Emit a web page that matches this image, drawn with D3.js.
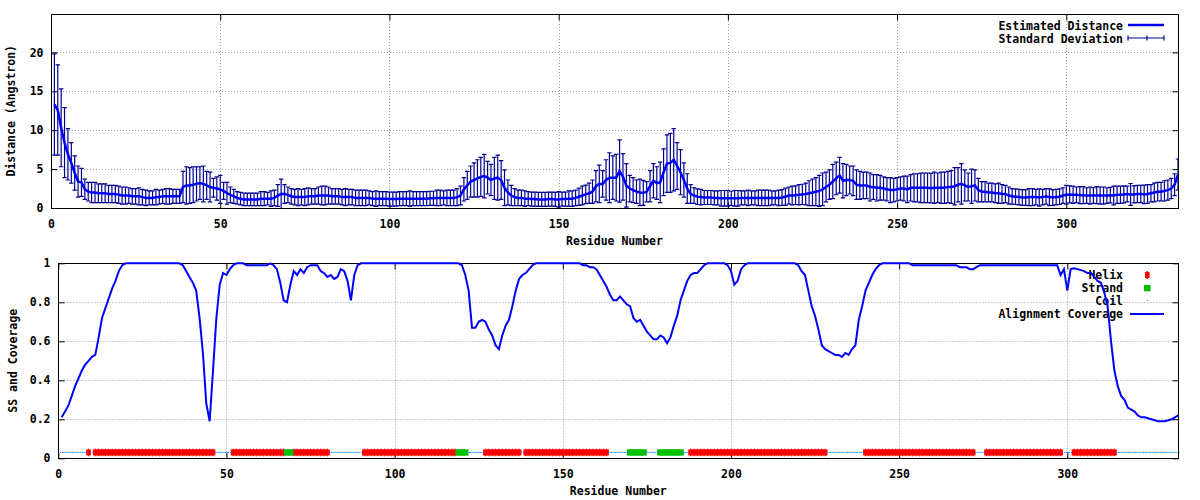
<!DOCTYPE html>
<html><head><meta charset="utf-8">
<script src="https://cdn.jsdelivr.net/npm/d3@7"></script>
<style>
body{margin:0;background:#fff;}
text{font-family:"DejaVu Sans Mono",monospace;font-weight:bold;font-size:11.5px;fill:#000;}
</style></head><body>
<svg id="c" width="1200" height="500"></svg>
<script>
// ---------------- DATA ----------------
const residueCount = 333;
const xTicks = [0, 50, 100, 150, 200, 250, 300];
const distTicks = [0, 5, 10, 15, 20];
const covTicks = [0, 0.2, 0.4, 0.6, 0.8, 1];
const covTickLabels = ["0", "0.2", "0.4", "0.6", "0.8", "1"];

const distance = [
13.3,12.6,10.3,8.4,6.9,5.8,4.5,3.4,3.3,2.4,
2.1,2.0,2.0,1.9,1.9,1.9,1.8,1.8,1.8,1.7,
1.6,1.6,1.6,1.5,1.5,1.5,1.4,1.3,1.3,1.3,
1.4,1.4,1.5,1.5,1.5,1.5,1.5,1.5,2.7,2.9,
2.9,3.0,3.1,3.2,3.1,2.9,2.7,2.6,2.5,2.4,
2.2,1.9,1.7,1.5,1.3,1.2,1.1,1.1,1.1,1.1,
1.1,1.2,1.2,1.2,1.2,1.3,1.6,1.8,1.8,1.7,
1.5,1.4,1.4,1.4,1.4,1.5,1.5,1.5,1.6,1.6,
1.6,1.6,1.5,1.5,1.5,1.4,1.4,1.4,1.4,1.3,
1.3,1.3,1.3,1.3,1.2,1.2,1.2,1.2,1.2,1.15,
1.15,1.15,1.2,1.2,1.2,1.2,1.2,1.2,1.2,1.2,
1.2,1.25,1.25,1.3,1.3,1.3,1.3,1.3,1.3,1.4,
1.6,2.4,2.9,3.4,3.6,3.8,4.0,4.1,3.9,3.6,
3.8,3.9,3.6,2.6,2.0,1.6,1.4,1.3,1.3,1.2,
1.2,1.15,1.15,1.1,1.1,1.1,1.15,1.15,1.1,1.1,
1.15,1.15,1.2,1.2,1.3,1.45,1.6,1.75,1.9,2.1,
2.8,3.1,3.1,3.6,3.9,3.9,3.9,4.75,4.0,2.9,
2.5,2.3,2.1,2.0,1.95,2.1,2.8,3.5,3.2,3.3,
4.6,5.7,5.8,6.2,5.4,4.6,3.6,2.5,1.8,1.6,
1.45,1.4,1.35,1.35,1.35,1.3,1.3,1.25,1.25,1.25,
1.25,1.25,1.25,1.3,1.3,1.3,1.3,1.3,1.3,1.3,
1.3,1.3,1.3,1.3,1.3,1.35,1.45,1.6,1.6,1.65,
1.7,1.75,1.8,1.9,2.0,2.1,2.2,2.4,2.7,3.0,
3.4,3.8,4.2,3.5,3.6,3.6,3.5,3.0,2.9,2.9,
2.9,2.7,2.7,2.6,2.6,2.5,2.4,2.3,2.3,2.4,
2.5,2.5,2.4,2.6,2.6,2.6,2.6,2.6,2.6,2.55,
2.6,2.6,2.6,2.6,2.7,2.7,2.8,3.0,3.1,2.9,
2.7,2.8,2.9,2.3,2.1,2.1,2.0,2.0,1.9,1.9,
1.8,1.8,1.6,1.5,1.45,1.4,1.35,1.35,1.4,1.4,
1.4,1.35,1.4,1.5,1.4,1.35,1.4,1.45,1.6,1.7,
1.75,1.7,1.7,1.65,1.65,1.6,1.6,1.6,1.65,1.6,
1.6,1.6,1.65,1.6,1.7,1.7,1.75,1.8,1.75,1.75,
1.8,1.8,1.75,1.8,1.9,2.0,2.1,2.1,2.2,2.3,
2.5,3.0,4.3];

const stdDev = [
6.5,5.8,5.0,4.5,3.3,2.6,2.2,2.0,1.8,1.3,
1.2,1.3,1.3,1.2,1.2,1.2,1.1,1.1,1.1,1.1,
1.1,1.1,1.0,1.0,1.0,1.1,1.0,1.0,0.9,0.9,
1.0,0.9,0.9,1.0,1.0,0.9,0.9,0.9,2.0,2.4,
2.3,2.3,2.2,2.1,2.3,1.8,1.9,1.2,1.5,1.8,
1.1,1.4,1.0,0.9,0.8,0.8,0.8,0.8,0.8,0.8,
0.8,0.9,0.9,0.8,1.0,1.0,1.4,1.9,1.2,1.0,
1.0,1.0,1.1,1.0,1.1,1.1,1.0,1.0,1.1,1.2,
1.2,1.1,1.0,1.0,1.0,1.0,1.1,1.0,1.0,1.0,
1.0,1.0,1.0,0.9,0.9,1.0,0.9,0.9,0.9,0.9,
0.9,0.9,0.9,0.9,0.9,1.0,0.9,0.9,0.9,0.9,
0.9,0.9,0.9,1.0,1.0,0.9,1.0,1.0,1.0,1.1,
1.2,1.5,1.8,2.0,2.2,2.4,2.5,2.8,2.1,2.0,
2.7,2.9,2.5,2.3,1.6,1.3,1.1,1.0,1.0,1.0,
0.9,0.9,0.9,0.9,0.9,0.9,0.9,0.9,0.9,1.0,
0.9,0.9,1.0,1.0,1.0,1.1,1.2,1.2,1.3,1.5,
2.0,2.4,1.7,2.6,3.2,2.8,3.0,4.0,3.0,2.8,
1.7,1.6,1.5,1.7,1.6,1.3,2.0,2.2,2.1,2.6,
3.0,3.7,3.8,4.0,3.0,2.9,2.2,1.9,1.2,1.0,
1.0,1.0,0.9,0.9,0.9,0.9,0.9,1.0,1.0,1.0,
0.9,1.0,1.0,0.9,0.9,1.0,0.9,0.9,1.0,1.0,
1.0,1.0,0.9,0.9,1.0,1.0,1.1,1.1,1.2,1.2,
1.3,1.3,1.4,1.6,1.7,1.8,2.0,2.1,1.9,1.9,
2.2,2.1,2.3,2.2,2.0,1.8,1.9,1.9,1.8,1.7,
1.7,1.8,1.6,1.7,1.6,1.5,1.5,1.6,1.5,1.5,
1.5,1.6,1.7,1.7,1.8,1.8,1.9,1.9,1.9,1.9,
2.0,1.9,2.0,2.0,2.0,2.1,2.4,2.2,2.6,2.0,
1.8,2.2,2.0,1.5,1.3,1.3,1.2,1.2,1.2,1.3,
1.2,1.1,1.1,1.0,1.0,1.0,1.0,1.0,1.1,1.1,
1.0,1.1,1.0,1.0,1.1,1.0,1.0,1.0,1.0,1.2,
1.1,1.1,1.0,1.1,1.1,1.0,1.1,1.0,1.1,1.1,
1.1,1.0,1.0,1.2,1.1,1.1,1.1,1.0,1.4,1.1,
1.1,1.1,1.2,1.2,1.1,1.2,1.2,1.2,1.3,1.3,
1.3,1.4,2.0];

const coverage = [
0.21,0.24,0.27,0.32,0.37,0.41,0.45,0.48,0.50,0.52,
0.53,0.62,0.72,0.77,0.82,0.87,0.91,0.96,0.99,1,
1,1,1,1,1,1,1,1,1,1,
1,1,1,1,1,1,0.99,0.96,0.93,0.90,
0.86,0.72,0.54,0.28,0.19,0.45,0.72,0.89,0.95,0.94,
0.97,0.99,1,1,1,0.99,0.99,0.99,0.99,0.99,
0.99,0.99,1,0.99,0.97,0.90,0.81,0.80,0.89,0.96,
0.94,0.97,0.95,0.98,0.99,0.99,0.99,0.96,0.95,0.93,
0.94,0.92,0.93,0.97,0.96,0.91,0.81,0.94,0.99,1,
1,1,1,1,1,1,1,1,1,1,
1,1,1,1,1,1,1,1,1,1,
1,1,1,1,1,1,1,1,1,0.99,
0.94,0.86,0.67,0.67,0.70,0.71,0.70,0.66,0.63,0.58,
0.56,0.63,0.68,0.71,0.78,0.86,0.92,0.94,0.95,0.97,
0.99,1,1,1,1,1,1,1,1,1,
1,1,1,1,1,0.99,0.99,0.98,0.98,0.97,
0.94,0.91,0.88,0.84,0.81,0.81,0.83,0.81,0.79,0.78,
0.72,0.70,0.71,0.68,0.65,0.63,0.61,0.61,0.63,0.62,
0.59,0.62,0.68,0.73,0.81,0.86,0.91,0.94,0.95,0.95,
0.97,0.99,1,1,1,1,1,1,0.99,0.96,
0.89,0.91,0.97,0.99,1,1,1,1,1,1,
1,1,1,1,1,1,1,1,1,0.99,
0.96,0.94,0.86,0.78,0.73,0.66,0.58,0.56,0.55,0.54,
0.53,0.53,0.52,0.54,0.53,0.56,0.58,0.71,0.78,0.86,
0.90,0.94,0.97,0.99,1,1,1,1,1,1,
1,1,1,0.99,0.99,0.99,0.99,0.99,0.99,0.99,
0.99,0.99,0.99,0.99,0.99,0.99,0.99,0.98,0.98,0.98,
0.97,0.97,0.98,0.99,0.99,0.99,0.99,0.99,0.99,0.99,
0.99,0.99,0.99,0.99,0.99,0.99,0.99,0.99,0.99,0.99,
0.99,0.99,0.99,0.99,0.99,0.99,0.99,0.94,0.97,0.86,
0.97,0.975,0.97,0.965,0.96,0.95,0.95,0.93,0.91,0.90,
0.85,0.78,0.60,0.45,0.37,0.32,0.30,0.26,0.25,0.24,
0.22,0.21,0.21,0.205,0.20,0.195,0.19,0.19,0.19,0.195,
0.20,0.21,0.22];

const helixRanges = [[9,9],[11,46],[52,67],[70,80],[91,118],[127,137],[139,163],[188,228],[240,272],[276,298],[302,314]];
const strandRanges = [[68,69],[119,121],[170,174],[179,185]];
const ssLevel = 0.03;

// ---------------- DRAW ----------------
const residues = d3.range(1, residueCount + 1);
const inRanges = (r, R) => R.some(([a, b]) => r >= a && r <= b);
const helixRes = residues.filter(r => inRanges(r, helixRanges));
const strandRes = residues.filter(r => inRanges(r, strandRanges));
const coilRes = residues.filter(r => !inRanges(r, helixRanges) && !inRanges(r, strandRanges));

const svg = d3.select("#c");
svg.append("rect").attr("width", 1200).attr("height", 500).attr("fill", "#fff");

const px = v => Math.round(v) + 0.5;

function panel(x, y, yTicks, yFmt, yLabel, xLabelBaseline, yLabelX) {
  const g = svg.append("g");
  const [x0, x1] = x.range(), [yb, yt] = y.range();
  // grid
  g.append("g").selectAll("line").data(xTicks.filter(t => t > x.domain()[0] && t < x.domain()[1])).join("line")
    .attr("x1", d => px(x(d))).attr("x2", d => px(x(d))).attr("y1", yb).attr("y2", yt)
    .attr("stroke", "#a0a0a0").attr("stroke-dasharray", "1,2");
  g.append("g").selectAll("line").data(yTicks.filter(t => t > y.domain()[0] && t < y.domain()[1])).join("line")
    .attr("y1", d => px(y(d))).attr("y2", d => px(y(d))).attr("x1", x0).attr("x2", x1)
    .attr("stroke", "#a0a0a0").attr("stroke-dasharray", "1,2");
  // axes
  const ab = g.append("g").attr("transform", `translate(0,${px(yb)})`)
    .call(d3.axisBottom(x).tickValues(xTicks).tickSizeInner(-6).tickSizeOuter(0).tickPadding(11).tickFormat(d3.format("d")));
  const at = g.append("g").attr("transform", `translate(0,${px(yt)})`)
    .call(d3.axisTop(x).tickValues(xTicks).tickSizeInner(-6).tickSizeOuter(0).tickFormat(""));
  const al = g.append("g").attr("transform", `translate(${px(x0)},0)`)
    .call(d3.axisLeft(y).tickValues(yTicks).tickSizeInner(-6).tickSizeOuter(0).tickPadding(8).tickFormat(yFmt));
  const ar = g.append("g").attr("transform", `translate(${px(x1)},0)`)
    .call(d3.axisRight(y).tickValues(yTicks).tickSizeInner(-6).tickSizeOuter(0).tickFormat(""));
  [ab, at, al, ar].forEach(a => { a.select(".domain").remove(); a.attr("font-size", null).attr("font-family", null); });
  // frame
  g.append("rect").attr("x", px(x0)).attr("y", px(yt)).attr("width", Math.round(x1) - Math.round(x0)).attr("height", Math.round(yb) - Math.round(yt))
    .attr("fill", "none").attr("stroke", "#000");
  // labels
  g.append("text").attr("x", (x0 + x1) / 2).attr("y", xLabelBaseline).attr("text-anchor", "middle").text("Residue Number");
  g.append("text").attr("transform", `translate(${yLabelX},${(yb + yt) / 2}) rotate(-90)`).attr("text-anchor", "middle")
    .attr("dy", "0.35em").text(yLabel);
  return g;
}

// ---- top panel ----
const xT = d3.scaleLinear([0, residueCount], [51, 1178]);
const yT = d3.scaleLinear([0, 25], [208, 13.5]);
panel(xT, yT, distTicks, d3.format("d"), "Distance (Angstron)", 245, 10.5);

const clipT = svg.append("clipPath").attr("id", "clipT").append("rect")
  .attr("x", 51).attr("y", 13.5).attr("width", 1127).attr("height", 195);
const gT = svg.append("g").attr("clip-path", "url(#clipT)");
const errColor = "#000090";
const cap = 2.2;
const eb = gT.append("g").attr("stroke", errColor).attr("stroke-width", 1.2).attr("fill", "none");
residues.forEach((r, i) => {
  const xx = xT(r), lo = yT(distance[i] - stdDev[i]), hi = yT(distance[i] + stdDev[i]);
  eb.append("line").attr("x1", xx).attr("x2", xx).attr("y1", lo).attr("y2", hi);
  eb.append("line").attr("x1", xx - cap).attr("x2", xx + cap).attr("y1", lo).attr("y2", lo);
  eb.append("line").attr("x1", xx - cap).attr("x2", xx + cap).attr("y1", hi).attr("y2", hi);
});
gT.append("path").datum(residues)
  .attr("d", d3.line().x(r => xT(r)).y((r, i) => yT(distance[i])))
  .attr("fill", "none").attr("stroke", "#0000ff").attr("stroke-width", 2.5);

// top legend
const lgT = svg.append("g");
lgT.append("text").attr("x", 1123).attr("y", 25.8).attr("dy", "0.35em").attr("text-anchor", "end").text("Estimated Distance");
lgT.append("line").attr("x1", 1128).attr("x2", 1164).attr("y1", 25).attr("y2", 25).attr("stroke", "#0000ff").attr("stroke-width", 2.5);
lgT.append("text").attr("x", 1123).attr("y", 38.5).attr("dy", "0.35em").attr("text-anchor", "end").text("Standard Deviation");
const lse = lgT.append("g").attr("stroke", errColor).attr("stroke-width", 1.2);
lse.append("line").attr("x1", 1128).attr("x2", 1164).attr("y1", 38).attr("y2", 38);
[1128, 1147, 1164].forEach(xx => lse.append("line").attr("x1", xx).attr("x2", xx).attr("y1", 35.5).attr("y2", 40.5));

// ---- bottom panel ----
const xB = d3.scaleLinear([0, residueCount], [58.3, 1178.3]);
const yB = d3.scaleLinear([0, 1], [458.3, 263.3]);
panel(xB, yB, covTicks, (d, i) => covTickLabels[covTicks.indexOf(d)], "SS and Coverage", 495, 12.5);

// legend text first (line draws over it)
const lgB = svg.append("g");
[["Helix", 275], ["Strand", 288], ["Coil", 301], ["Alignment Coverage", 314]].forEach(([t, yy]) =>
  lgB.append("text").attr("x", 1123).attr("y", yy).attr("dy", "0.35em").attr("text-anchor", "end").text(t));
lgB.append("rect").attr("x", 1145).attr("y", 272).attr("width", 4.6).attr("height", 6).attr("fill", "#ff0000");
lgB.append("rect").attr("x", 1146.5).attr("y", 271).attr("width", 1.5).attr("height", 8).attr("fill", "#ff0000");
lgB.append("rect").attr("x", 1144).attr("y", 285).attr("width", 6.6).attr("height", 6.3).attr("fill", "#00c000");
lgB.append("rect").attr("x", 1147).attr("y", 300).attr("width", 1).attr("height", 1).attr("fill", "#0080ff");
lgB.append("line").attr("x1", 1130).attr("x2", 1164).attr("y1", 314).attr("y2", 314).attr("stroke", "#0000ff").attr("stroke-width", 2);

const gB = svg.append("g");
const ySS = yB(ssLevel);
gB.append("g").selectAll("rect.h").data(helixRes).join("rect")
  .attr("x", r => xB(r) - 2.4).attr("y", ySS - 3).attr("width", 4.8).attr("height", 6).attr("fill", "#ff0000");
gB.append("g").selectAll("rect.ht").data(helixRes).join("rect")
  .attr("x", r => xB(r) - 0.6).attr("y", ySS - 3.8).attr("width", 1.2).attr("height", 7.6).attr("fill", "#ff0000");
gB.append("g").selectAll("rect").data(strandRes).join("rect")
  .attr("x", r => xB(r) - 3.25).attr("y", ySS - 3.15).attr("width", 6.5).attr("height", 6.3).attr("fill", "#00c000");
gB.append("g").selectAll("line").data(coilRes).join("line")
  .attr("x1", r => xB(r - 0.5)).attr("x2", r => xB(r + 0.5)).attr("y1", Math.round(ySS) + 0.5).attr("y2", Math.round(ySS) + 0.5)
  .attr("stroke", "#0080ff").attr("stroke-width", 1).attr("stroke-dasharray", "1,1");
gB.append("path").datum(residues)
  .attr("d", d3.line().x(r => xB(r)).y((r, i) => yB(coverage[i])))
  .attr("fill", "none").attr("stroke", "#0000ff").attr("stroke-width", 2);
</script>
</body></html>
